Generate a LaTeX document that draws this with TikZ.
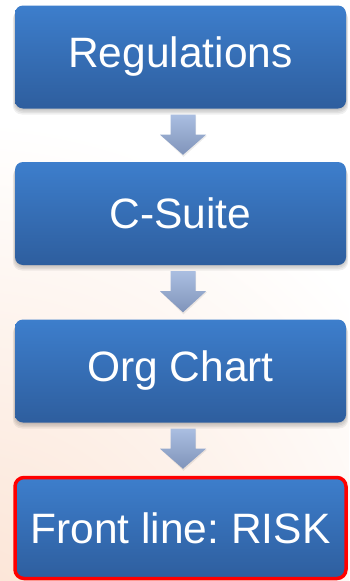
\documentclass[tikz,border=0pt]{standalone}
\usepackage{fontspec}
\setmainfont{Liberation Sans}
\usetikzlibrary{calc}
\definecolor{boxtop}{RGB}{61,126,204}
\definecolor{boxbot}{RGB}{46,94,158}
\definecolor{arrtop}{RGB}{170,190,225}
\definecolor{arrbot}{RGB}{128,148,186}
\definecolor{peach}{RGB}{251,226,210}
\definecolor{alertred}{RGB}{255,0,0}
\frenchspacing
\begin{document}
\begin{tikzpicture}[x=1pt,y=-1pt,
  box/.style={rounded corners=8pt, minimum width=331pt, minimum height=103pt,
    inner sep=0pt, top color=boxtop, bottom color=boxbot, text=white,
    font=\fontsize{42.5}{48}\selectfont},
  shadowlayer/.style={fill=black, fill opacity=0.06, rounded corners=9pt},
  arrowshade/.style={top color=arrtop, bottom color=arrbot}
]
\useasboundingbox (0,0) rectangle (349,581);
% background
\fill[white] (0,0) rectangle (349,581);
\begin{scope}
  \clip (0,0) rectangle (349,581);
  \shade[inner color=peach, outer color=white] (-40,640) circle (520);
\end{scope}

% shadows
\foreach \yc/\h in {57/104,213.5/103,371/104}{
  \foreach \d in {1,2.5,4,5.5}{
    \fill[shadowlayer] (15-\d*0.4,\yc-\h/2+\d) rectangle (346+\d*0.4,\yc+\h/2+\d);
  }
}

% boxes
\node[box] (reg) at (180.5,57) {Regulations};
\node[box] (cs) at (180.5,213.5) {C-Suite};
\node[box] (org) at (180.5,371) {Org Chart};
\node[box, minimum height=101pt, draw=alertred, line width=3.5pt, rounded corners=9pt] (fl) at (180.5,528) {Front line: RISK};

% arrows between boxes
\foreach \a/\b in {reg/cs, cs/org, org/fl}{
  \coordinate (top) at ($(\a.south)+(2.5,6)$);
  \coordinate (tip) at ($(\b.north)+(2.5,-7)$);
  \fill[black, fill opacity=0.08]
    ($(top)+(-12,1)$) -- ($(top)+(13,1)$) -- ($(top)+(13,21)$) -- ($(top)+(24,21)$)
    -- ($(tip)+(0.5,2)$) -- ($(top)+(-22,21)$) -- ($(top)+(-12,21)$) -- cycle;
  \shade[arrowshade]
    ($(top)+(-12.5,0)$) -- ($(top)+(12.5,0)$) -- ($(top)+(12.5,20)$) -- ($(top)+(23,20)$)
    -- (tip) -- ($(top)+(-23,20)$) -- ($(top)+(-12.5,20)$) -- cycle;
}
\end{tikzpicture}
\end{document}
